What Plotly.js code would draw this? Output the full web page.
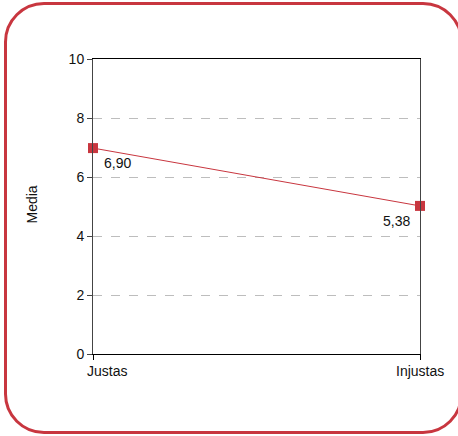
<!DOCTYPE html>
<html><head><meta charset="utf-8">
<script src="https://cdn.plot.ly/plotly-3.0.1.min.js"></script>
<style>
html,body{margin:0;padding:0;width:458px;height:436px;overflow:hidden;background:#fff;}
#frame{position:absolute;left:4px;top:2px;width:459px;height:432px;box-sizing:border-box;border:3px solid #c8363f;border-radius:40px;}
#chart{position:absolute;left:0;top:0;width:458px;height:436px;}
</style></head>
<body>
<div id="frame"></div>
<div id="chart"></div>
<script>
const categories = ["Justas", "Injustas"];
const means = [6.98, 5.02];
const valueLabels = ["6,90", "5,38"];
const yTicks = [0, 2, 4, 6, 8, 10];

const red = "#c8363f";
const fontFam = "Liberation Sans, Arial, Helvetica, sans-serif";
const trace = {
  x: categories, y: means, type: "scatter", mode: "lines+markers",
  line: {color: red, width: 1},
  marker: {symbol: "square", size: 10, color: red},
  cliponaxis: false, hoverinfo: "none"
};
const annotations = [];
categories.forEach((c, i) => {
  annotations.push({
    x: c, xref: "x", y: 0, yref: "paper", yanchor: "top", xanchor: "center",
    text: c, showarrow: false, xshift: i === 0 ? 14 : 0, yshift: -7,
    font: {family: fontFam, size: 14, color: "#111"}
  });
  annotations.push({
    x: c, xref: "x", y: means[i], yref: "y", xanchor: "center", yanchor: "middle",
    text: valueLabels[i], showarrow: false,
    xshift: i === 0 ? 24 : -24, yshift: -15,
    font: {family: fontFam, size: 14, color: "#111"}
  });
});
annotations.push({
  x: 0, xref: "paper", y: 0.5, yref: "paper", xanchor: "center", yanchor: "middle",
  xshift: -62, yshift: 2, textangle: -90, text: "Media", showarrow: false,
  font: {family: fontFam, size: 14, color: "#111"}
});
const layout = {
  width: 458, height: 436,
  margin: {l: 93, r: 38, t: 59, b: 82},
  paper_bgcolor: "rgba(0,0,0,0)", plot_bgcolor: "rgba(0,0,0,0)",
  showlegend: false,
  font: {family: fontFam, size: 14, color: "#111"},
  xaxis: {
    type: "category", range: [0, 1], showgrid: false, zeroline: false,
    showline: true, linecolor: "#000", linewidth: 1, mirror: true,
    ticks: "outside", ticklen: 5, tickcolor: "#000", showticklabels: false
  },
  yaxis: {
    range: [0, 10], tickvals: yTicks, ticktext: yTicks.map(String),
    showgrid: true, gridcolor: "#bdbdbd", griddash: "dash", gridwidth: 1,
    zeroline: false, showline: true, linecolor: "#444", linewidth: 1, mirror: true,
    ticks: "outside", ticklen: 5, tickcolor: "#444",
    tickfont: {family: fontFam, size: 14, color: "#111"}
  },
  annotations: annotations
};
Plotly.newPlot("chart", [trace], layout, {displayModeBar: false, staticPlot: true});
</script>
</body></html>
